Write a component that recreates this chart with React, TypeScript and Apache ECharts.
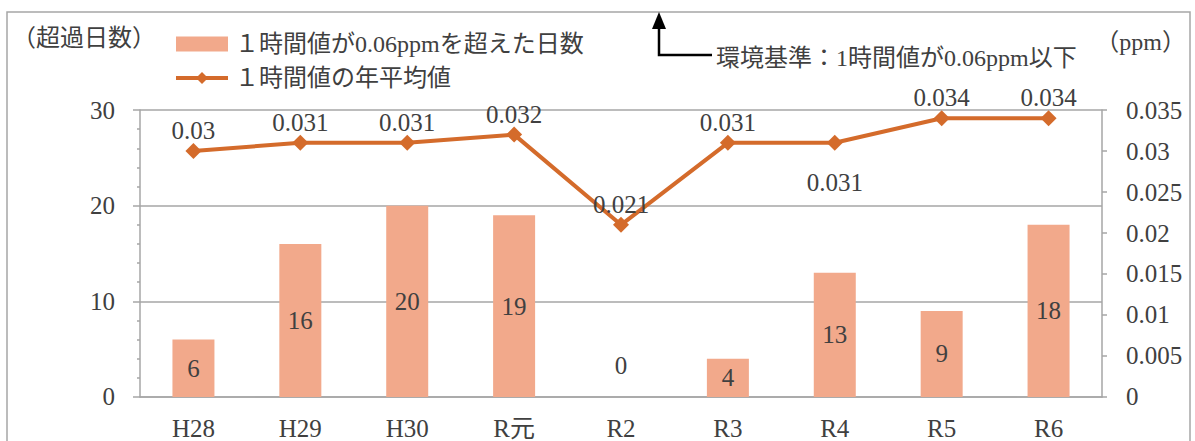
import React, { useEffect, useRef } from "react";
import * as echarts from "echarts";

const categories = ["H28", "H29", "H30", "R元", "R2", "R3", "R4", "R5", "R6"];
const exceedDays = [6, 16, 20, 19, 0, 4, 13, 9, 18];
const annualMean = [0.03, 0.031, 0.031, 0.032, 0.021, 0.031, 0.031, 0.034, 0.034];
const barName = "１時間値が0.06ppmを超えた日数";
const lineName = "１時間値の年平均値";
const standardText = "環境基準：1時間値が0.06ppm以下";

const FONT = '"Liberation Serif", "Noto Sans CJK JP", serif';
const TEXT = "#404040";
const GRAY = "#a6a6a6";
const BAR = "#F2A98B";
const LINE = "#D46B2B";
const NUM = 25;
const CJK = 24;

export default function App() {
  const ref = useRef<HTMLDivElement>(null);
  useEffect(() => {
    if (!ref.current) return;
    const chart = echarts.init(ref.current, undefined, { renderer: "svg" });
    chart.setOption({
      animation: false,
      textStyle: { fontFamily: FONT, color: TEXT },
      grid: { left: 140, right: 93, top: 110, bottom: 44 },
      legend: {
        orient: "vertical",
        left: 169,
        top: 27,
        itemWidth: 52,
        itemHeight: 15,
        itemGap: 10,
        lineStyle: { width: 4 },
        textStyle: { fontFamily: FONT, fontSize: CJK, color: TEXT, padding: [0, 0, 0, 2] },
        data: [
          { name: barName, icon: "rect", itemStyle: { color: BAR } },
          { name: lineName },
        ],
      },
      xAxis: {
        type: "category",
        data: categories,
        axisLine: { lineStyle: { color: GRAY, width: 1.5 } },
        axisTick: { length: 6, lineStyle: { color: GRAY, width: 1.5 } },
        axisLabel: { fontSize: NUM, color: TEXT, margin: 19, fontFamily: FONT },
      },
      yAxis: [
        {
          type: "value",
          min: 0,
          max: 30,
          interval: 10,
          axisLine: { show: true, lineStyle: { color: GRAY, width: 1.5 } },
          axisTick: { show: true, length: 7, lineStyle: { color: GRAY, width: 1.5 } },
          minorTick: { show: true, splitNumber: 5, length: 3, lineStyle: { color: GRAY, width: 1.5 } },
          splitLine: { show: true, lineStyle: { color: GRAY, width: 1.5 } },
          axisLabel: { fontSize: NUM, color: TEXT, margin: 25, fontFamily: FONT },
        },
        {
          type: "value",
          min: 0,
          max: 0.035,
          interval: 0.005,
          axisLine: { show: true, lineStyle: { color: GRAY, width: 1.5 } },
          axisTick: { show: true, length: 5, lineStyle: { color: GRAY, width: 1.5 } },
          splitLine: { show: false },
          axisLabel: { fontSize: NUM, color: TEXT, margin: 24, fontFamily: FONT },
        },
      ],
      series: [
        {
          name: barName,
          type: "bar",
          yAxisIndex: 0,
          barWidth: 42,
          itemStyle: { color: BAR },
          label: {
            show: true,
            position: "inside",
            fontSize: NUM,
            color: TEXT,
            fontFamily: FONT,
          },
          data: exceedDays.map((v) =>
            v === 0 ? { value: v, label: { offset: [0, -31] } } : v
          ),
        },
        {
          name: lineName,
          type: "line",
          yAxisIndex: 1,
          symbol: "diamond",
          symbolSize: 16,
          lineStyle: { color: LINE, width: 4 },
          itemStyle: { color: LINE },
          label: {
            show: true,
            position: "top",
            distance: 0,
            fontSize: NUM,
            color: TEXT,
            fontFamily: FONT,
          },
          data: annualMean.map((v, i) =>
            i === 6 ? { value: v, label: { position: "bottom", distance: 19 } } : v
          ),
        },
      ],
      graphic: [
        {
          type: "rect",
          shape: { x: 7, y: 12, width: 1183, height: 460 },
          style: { fill: "none", stroke: GRAY, lineWidth: 1.5 },
          silent: true,
        },
        {
          type: "text",
          x: 12,
          y: 38,
          style: { text: "（超過日数）", font: `${CJK}px ${FONT}`, fill: TEXT, textVerticalAlign: "middle" },
        },
        {
          type: "text",
          x: 1186,
          y: 42,
          style: { text: "（ppm）", font: `${CJK}px ${FONT}`, fill: TEXT, textAlign: "right", textVerticalAlign: "middle" },
        },
        {
          type: "polyline",
          shape: { points: [[659, 26], [659, 55], [712, 55]] },
          style: { stroke: "#000", lineWidth: 2.5, fill: "none" },
        },
        {
          type: "polygon",
          shape: { points: [[659, 12], [652, 29], [666, 29]] },
          style: { fill: "#000" },
        },
        {
          type: "text",
          x: 716,
          y: 58,
          style: { text: standardText, font: `${CJK}px ${FONT}`, fill: TEXT, textVerticalAlign: "middle" },
        },
      ],
    });
    return () => chart.dispose();
  }, []);
  return (
    <div
      ref={ref}
      style={{ position: "fixed", left: 0, top: 0, width: 1195, height: 441, background: "#fff" }}
    />
  );
}
